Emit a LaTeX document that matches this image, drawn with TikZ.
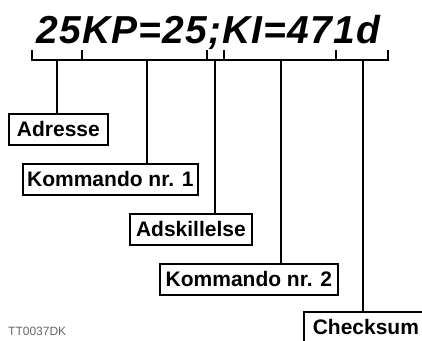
\documentclass[tikz,border=0pt]{standalone}
\usepackage{fontspec}
\setmainfont{Liberation Sans}
\newfontfamily\titlefont[LetterSpace=3.0]{Liberation Sans}
\begin{document}
\begin{tikzpicture}[x=1pt,y=-1pt,
  lw/.style={line width=1.8pt},
  lbl/.style={draw,line width=1.8pt,anchor=north west,font=\fontsize{21}{21}\selectfont\bfseries,
    minimum height=31pt,text height=15pt,text depth=0pt,inner xsep=0pt,inner ysep=0pt,fill=white},
]
\useasboundingbox (0,0) rectangle (422,340);
\clip (0,0) rectangle (422,340);
\node[anchor=base,inner sep=0pt,font=\titlefont\fontsize{39}{39}\selectfont\bfseries\itshape] (title) at (208.5,43) {25KP=25;KI=471d};
% bracket ticks
\foreach \n/\x in {0/32,1/82,2/207,3/224,4/336,5/388}{
  \coordinate (t\n) at (\x,60);
  \coordinate (u\n) at (\x,50);
}
\draw[lw] (u0) -- (t0) -- (t5) -- (u5);
\foreach \n in {1,2,3,4}{\draw[lw] (u\n) -- (t\n);}
% drop points
\coordinate (d1) at (57,60);
\coordinate (d2) at (147,60);
\coordinate (d3) at (215,60);
\coordinate (d4) at (281,60);
\coordinate (d5) at (363,60);
% boxes
\node[lbl,minimum width=99pt] (adr) at (8,113) {Adresse};
\node[lbl,minimum width=175pt] (k1) at (22,163) {Kommando nr. 1};
\node[lbl,minimum width=122pt] (ads) at (129,213) {Adskillelse};
\node[lbl,minimum width=178pt] (k2) at (159,263) {Kommando nr. 2};
\node[lbl,minimum width=124pt,minimum height=40pt] (chk) at (303,311) {\raisebox{4.5pt}{Checksum}};
% connectors
\draw[lw] (d1) -- (d1 |- adr.north);
\draw[lw] (d2) -- (d2 |- k1.north);
\draw[lw] (d3) -- (d3 |- ads.north);
\draw[lw] (d4) -- (d4 |- k2.north);
\draw[lw] (d5) -- (d5 |- chk.north);
\node[anchor=base west,inner sep=0pt,text=black!60,font=\fontsize{12}{12}\selectfont] (code) at (8,335) {TT0037DK};
\end{tikzpicture}
\end{document}
